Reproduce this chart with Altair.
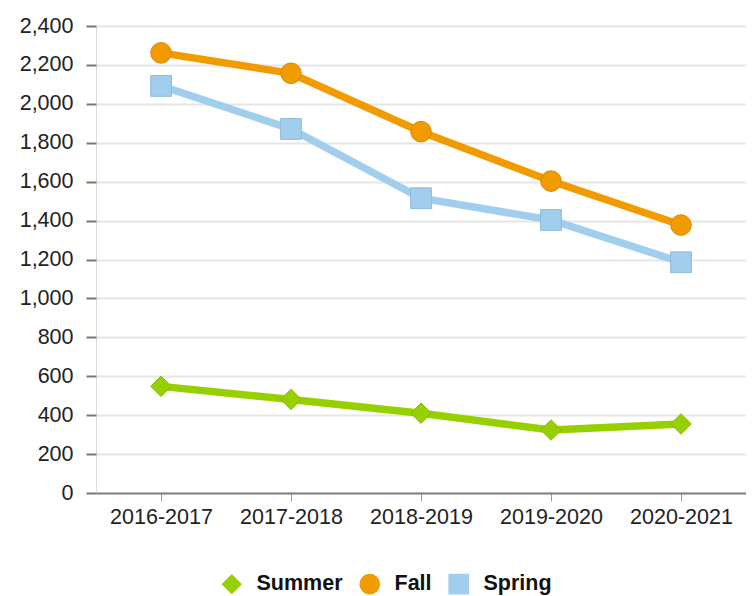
import altair as alt
import pandas as pd

years = ["2016-2017", "2017-2018", "2018-2019", "2019-2020", "2020-2021"]
series = ["Summer", "Fall", "Spring"]
summer = [548, 481, 410, 324, 355]
fall = [2262, 2157, 1857, 1603, 1377]
spring = [2092, 1871, 1515, 1403, 1186]

colors = ["#97D000", "#F29B00", "#A0CEEC"]
strokes = ["#86BA00", "#D98A00", "#8DBBDA"]
shapes = ["diamond", "circle", "square"]
sizes = [420, 430, 390]

rows = []
for name, vals in zip(series, [summer, fall, spring]):
    for y, v in zip(years, vals):
        rows.append({"Year": y, "Season": name, "Value": v})
df = pd.DataFrame(rows)

font = "Liberation Sans"
fs = 21.5

x = alt.X("Year:N", sort=years, title=None,
          scale=alt.Scale(type="point", padding=0.5),
          axis=alt.Axis(labelAngle=0, labelFontSize=fs, labelColor="#222",
                        labelFont=font, domainColor="#808080", domainWidth=2,
                        tickColor="#999", tickSize=8, tickWidth=1,
                        labelPadding=5, grid=False))
y = alt.Y("Value:Q", title=None,
          scale=alt.Scale(domain=[0, 2400], nice=False),
          axis=alt.Axis(values=list(range(0, 2401, 200)), format=",d",
                        labelFontSize=fs, labelColor="#222", labelFont=font,
                        domain=False, tickColor="#777", tickSize=10, tickWidth=2,
                        labelPadding=13, gridColor="#E6E6E6", gridWidth=2))

leg = alt.Legend(orient="none", legendX=125, legendY=547,
                 direction="horizontal", title=None,
                 labelFontSize=fs, labelFontWeight="bold",
                 labelFont=font, labelColor="#111",
                 symbolSize=300, symbolStrokeWidth=0,
                 labelOffset=14, columnPadding=16,
                 padding=0, symbolOpacity=1)

color = alt.Color("Season:N", scale=alt.Scale(domain=series, range=colors), legend=leg)
shape = alt.Shape("Season:N", scale=alt.Scale(domain=series, range=shapes), legend=leg)

base = alt.Chart(df)

lines = base.mark_line(strokeWidth=7.5).encode(
    x=x, y=y, color=color, detail="Season:N",
)

points = base.mark_point(filled=True, opacity=1, strokeWidth=1).encode(
    x=x, y=y, color=color, shape=shape,
    stroke=alt.Stroke("Season:N", scale=alt.Scale(domain=series, range=strokes), legend=None),
    size=alt.Size("Season:N", scale=alt.Scale(domain=series, range=sizes), legend=None),
)

chart = alt.layer(lines, points).properties(
    width=650, height=467,
    autosize=alt.AutoSizeParams(type="none"),
    padding={"left": 88, "top": 18, "right": 0, "bottom": 103},
).configure_view(stroke=None).configure(font=font)

chart.save("out.html", embed_options={"renderer": "svg", "actions": False})
